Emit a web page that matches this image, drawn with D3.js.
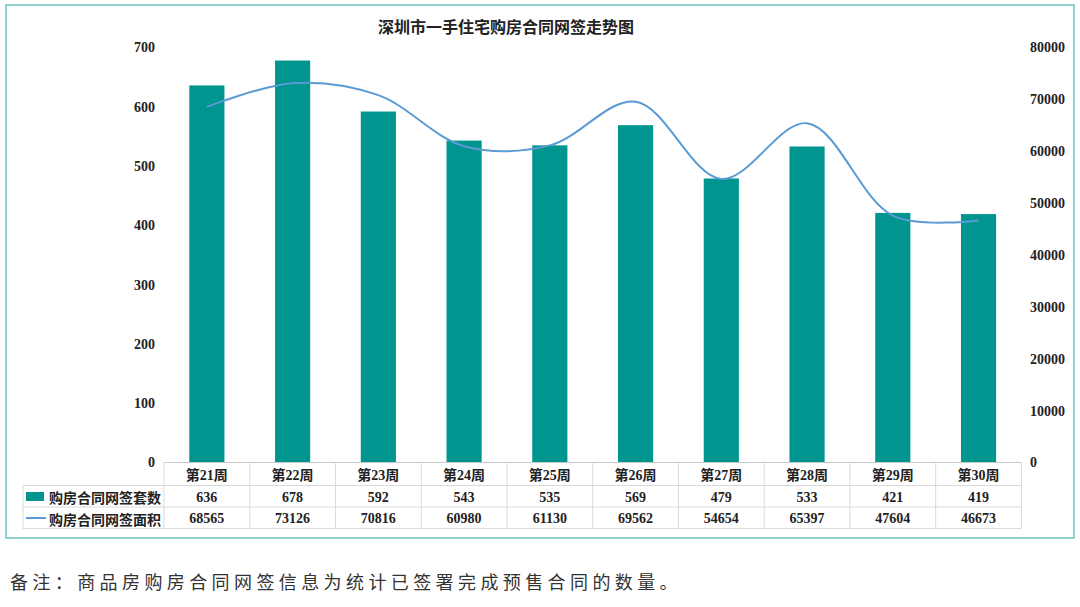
<!DOCTYPE html>
<html>
<head>
<meta charset="utf-8">
<script src="https://cdn.jsdelivr.net/npm/d3@7"></script>
<style>
  body { margin: 0; background: #fff; }
  svg { display: block; }
</style>
</head>
<body>
<div id="chart"></div>
<script>
/* DATA */
const weeks = ["第21周", "第22周", "第23周", "第24周", "第25周", "第26周", "第27周", "第28周", "第29周", "第30周"];
const counts = [636, 678, 592, 543, 535, 569, 479, 533, 421, 419];
const areas = [68565, 73126, 70816, 60980, 61130, 69562, 54654, 65397, 47604, 46673];
const leftTicks = [0, 100, 200, 300, 400, 500, 600, 700];
const rightTicks = [0, 10000, 20000, 30000, 40000, 50000, 60000, 70000, 80000];
const seriesNames = ["购房合同网签套数", "购房合同网签面积"];

const W = 1080, H = 607;
const barColor = "#00968f", lineColor = "#5b9bd5", gridColor = "#d9d9d9";
const numFont = "'Liberation Serif', 'Noto Sans CJK SC', serif";
const cjkFont = "'Noto Sans CJK SC', sans-serif";

// plot area
const x0 = 164, x1 = 1021.4, yTop = 47.5, yBase = 462.5;

const xScale = d3.scaleBand().domain(weeks).range([x0, x1]);
const yLeft = d3.scaleLinear().domain([0, 700]).range([yBase, yTop]);
const yRight = d3.scaleLinear().domain([0, 80000]).range([yBase, yTop]);

const svg = d3.select("#chart").append("svg")
  .attr("width", W).attr("height", H);

// outer frame
svg.append("rect")
  .attr("x", 6).attr("y", 5).attr("width", 1068).attr("height", 533)
  .attr("fill", "none").attr("stroke", "#6cc3c3").attr("stroke-width", 1.5);

// title
svg.append("text")
  .attr("x", 506).attr("y", 33)
  .attr("text-anchor", "middle")
  .style("font-family", cjkFont).style("font-size", "16px").style("font-weight", "bold")
  .attr("fill", "#222")
  .text("深圳市一手住宅购房合同网签走势图");

// bars
const barW = xScale.bandwidth() * 0.41;
svg.selectAll(".bar")
  .data(counts)
  .enter().append("rect")
  .attr("class", "bar")
  .attr("x", (d, i) => xScale(weeks[i]) + xScale.bandwidth() / 2 - barW / 2)
  .attr("y", d => yLeft(d))
  .attr("width", barW)
  .attr("height", d => yBase - yLeft(d))
  .attr("fill", barColor);

// smooth line
const line = d3.line()
  .x((d, i) => xScale(weeks[i]) + xScale.bandwidth() / 2)
  .y(d => yRight(d))
  .curve(d3.curveCatmullRom.alpha(0.5));

svg.append("path")
  .datum(areas)
  .attr("d", line)
  .attr("fill", "none")
  .attr("stroke", lineColor)
  .attr("stroke-width", 2);

// left axis
const gl = svg.append("g")
  .attr("transform", "translate(162,0)")
  .call(d3.axisLeft(yLeft).tickValues(leftTicks).tickSize(0).tickPadding(7));
gl.select(".domain").remove();
gl.selectAll("text")
  .style("font-family", numFont).style("font-size", "14px").style("font-weight", "bold")
  .attr("fill", "#222");

// right axis
const gr = svg.append("g")
  .attr("transform", "translate(1023,0)")
  .call(d3.axisRight(yRight).tickValues(rightTicks).tickFormat(d3.format("d")).tickSize(0).tickPadding(7));
gr.select(".domain").remove();
gr.selectAll("text")
  .style("font-family", numFont).style("font-size", "14px").style("font-weight", "bold")
  .attr("fill", "#222");

// data table
const rowY = [462.5, 485.5, 507, 528.5];
const tbl = svg.append("g").attr("stroke", gridColor).attr("stroke-width", 1);

// horizontal lines
tbl.append("line").attr("x1", x0).attr("x2", x1).attr("y1", rowY[0]).attr("y2", rowY[0]).attr("stroke", "#c8c8c8");
[1, 2, 3].forEach(r => {
  tbl.append("line").attr("x1", 23).attr("x2", x1).attr("y1", rowY[r]).attr("y2", rowY[r]);
});
// vertical lines
tbl.append("line").attr("x1", 23).attr("x2", 23).attr("y1", rowY[1]).attr("y2", rowY[3]);
weeks.forEach(w => {
  tbl.append("line").attr("x1", xScale(w)).attr("x2", xScale(w)).attr("y1", rowY[0]).attr("y2", rowY[3]);
});
tbl.append("line").attr("x1", x1).attr("x2", x1).attr("y1", rowY[0]).attr("y2", rowY[3]);

function cellText(x, y, t, anchor, font, size) {
  svg.append("text")
    .attr("x", x).attr("y", y)
    .attr("text-anchor", anchor)
    .attr("dominant-baseline", "central")
    .style("font-family", font).style("font-size", size).style("font-weight", "bold")
    .attr("fill", "#222")
    .text(t);
}

weeks.forEach((w, i) => {
  const cx = xScale(w) + xScale.bandwidth() / 2;
  cellText(cx, (rowY[0] + rowY[1]) / 2 + 1, w, "middle", numFont, "14px");
  cellText(cx, (rowY[1] + rowY[2]) / 2 + 1, counts[i], "middle", numFont, "14px");
  cellText(cx, (rowY[2] + rowY[3]) / 2 + 1, areas[i], "middle", numFont, "14px");
});

// legend keys in table
svg.append("rect")
  .attr("x", 26).attr("y", 492).attr("width", 18).attr("height", 9)
  .attr("fill", barColor);
svg.append("line")
  .attr("x1", 26).attr("x2", 46).attr("y1", 518).attr("y2", 518)
  .attr("stroke", lineColor).attr("stroke-width", 2);
cellText(49, (rowY[1] + rowY[2]) / 2 + 1, seriesNames[0], "start", cjkFont, "14px");
cellText(49, (rowY[2] + rowY[3]) / 2 + 1, seriesNames[1], "start", cjkFont, "14px");

// note
svg.append("text")
  .attr("x", 10).attr("y", 589)
  .style("font-family", cjkFont).style("font-size", "18px")
  .style("letter-spacing", "4.4px")
  .attr("fill", "#333")
  .text("备注：商品房购房合同网签信息为统计已签署完成预售合同的数量。");
</script>
</body>
</html>
